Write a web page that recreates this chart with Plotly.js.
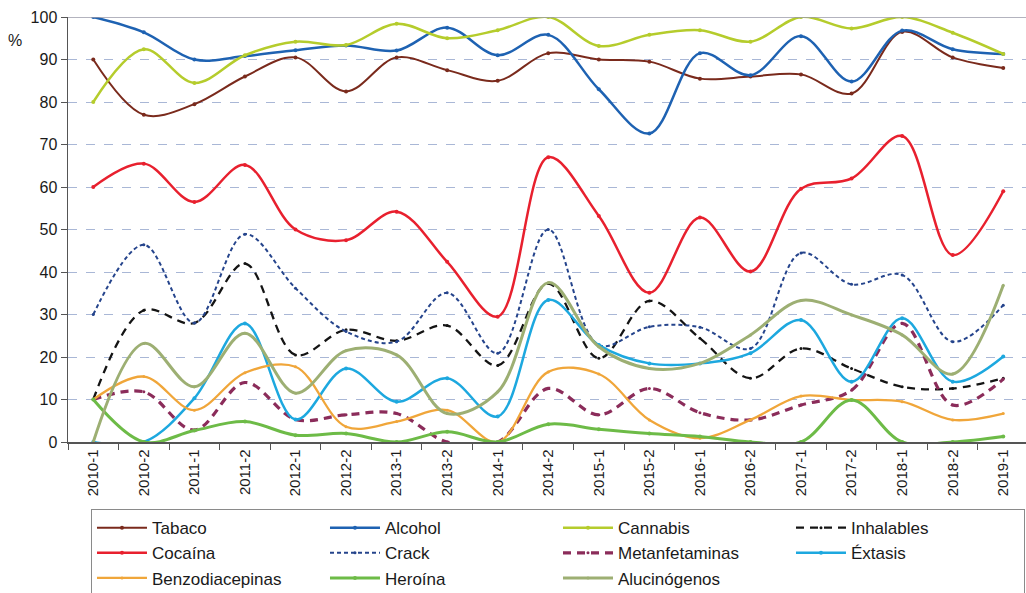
<!DOCTYPE html>
<html>
<head>
<meta charset="utf-8">
<script src="https://cdn.plot.ly/plotly-3.0.1.min.js"></script>
<style>html,body{margin:0;padding:0;background:#fff;}#chart{width:1026px;height:593px;}</style>
</head>
<body>
<div id="chart"></div>
<script>
const categories = ["2010-1","2010-2","2011-1","2011-2","2012-1","2012-2","2013-1","2013-2","2014-1","2014-2","2015-1","2015-2","2016-1","2016-2","2017-1","2017-2","2018-1","2018-2","2019-1"];

const tabaco          = [90, 77, 79.5, 86, 90.5, 82.5, 90.5, 87.5, 85, 91.5, 90, 89.5, 85.5, 86, 86.5, 82, 96.5, 90.5, 88];
const alcohol         = [100, 96.4, 90, 90.8, 92.2, 93.3, 92.1, 97.5, 91, 95.8, 83, 72.6, 91.5, 86.3, 95.5, 84.8, 96.8, 92.4, 91.3];
const cannabis        = [80, 92.4, 84.5, 91, 94.2, 93.4, 98.4, 95, 96.9, 100, 93.2, 95.8, 96.9, 94.2, 100, 97.3, 100, 96.3, 91.3];
const inhalables      = [10, 31, 28, 42, 20.5, 26.4, 23.8, 27.4, 18, 37.3, 19.7, 33.2, 24.4, 15, 22, 17.3, 13, 12.6, 15];
const cocaina         = [60, 65.5, 56.5, 65.2, 50, 47.5, 54.2, 42.4, 29.5, 67, 53.2, 35.1, 52.8, 40.1, 59.6, 62, 72, 44, 59];
const crack           = [30, 46.4, 28, 48.9, 36.2, 26, 23.6, 35.1, 20.9, 50, 22.8, 27.1, 27, 22, 44.5, 37.1, 39.3, 23.6, 32.2];
const metanfetaminas  = [10, 11.8, 2.8, 14, 5.3, 6.4, 6.7, 0, 0, 12.6, 6.4, 12.6, 6.9, 5.2, 8.7, 12.2, 27.9, 8.7, 14.8];
const extasis         = [0, 0, 10.3, 27.9, 5.3, 17.3, 9.5, 15, 6, 33.4, 22.8, 18.5, 18.5, 20.9, 28.7, 14.2, 29.1, 14.2, 20.1];
const benzodiacepinas = [10, 15.4, 7.5, 16.3, 17.7, 3.6, 4.8, 7.5, 0, 16.5, 16, 5.2, 0.9, 5.2, 10.8, 9.9, 9.5, 5.2, 6.7];
const heroina         = [10, 0, 2.7, 4.8, 1.6, 2, 0, 2.4, 0, 4.2, 3, 2, 1.3, 0, 0, 9.9, 0, 0, 1.3];
const alucinogenos    = [0, 23.2, 13, 25.6, 11.5, 21.5, 20.5, 6.7, 11.8, 37.5, 22.4, 17.3, 18.5, 25.2, 33.3, 29.9, 25.2, 16, 36.9];

const yTicks = [0,10,20,30,40,50,60,70,80,90,100];

function tr(name, y, color, width, dash, msize) {
  return {
    type: 'scatter', mode: 'lines+markers', name: name,
    x: categories, y: y,
    line: {color: color, width: width, dash: dash || 'solid', shape: 'spline', smoothing: 1},
    marker: {color: color, size: msize, symbol: 'circle'},
    cliponaxis: true
  };
}

const data = [
  tr('Tabaco', tabaco, '#7A2A1C', 2, 'solid', 4),
  tr('Alcohol', alcohol, '#1E62B2', 2.5, 'solid', 4),
  tr('Cannabis', cannabis, '#B5CC2C', 2.5, 'solid', 4),
  tr('Inhalables', inhalables, '#141414', 2.3, '8px,6px', 3),
  tr('Cocaína', cocaina, '#E8202E', 2.5, 'solid', 4),
  tr('Crack', crack, '#25448C', 2, '4px,3px', 3),
  tr('Metanfetaminas', metanfetaminas, '#8B2C5A', 3.2, '8px,6px', 3),
  tr('Éxtasis', extasis, '#1DA8DF', 2.5, 'solid', 4),
  tr('Benzodiacepinas', benzodiacepinas, '#F0A63A', 2.3, 'solid', 3),
  tr('Heroína', heroina, '#6DBB47', 3, 'solid', 4),
  tr('Alucinógenos', alucinogenos, '#9DAF73', 3, 'solid', 3)
];

const layout = {
  width: 1026, height: 593,
  margin: {l: 68, r: 0, t: 17, b: 151, autoexpand: false},
  paper_bgcolor: '#ffffff', plot_bgcolor: '#ffffff',
  font: {family: 'Arial, "Liberation Sans", sans-serif', color: '#1a1a1a', size: 15},
  showlegend: true,
  xaxis: {
    type: 'category', range: [-0.5, 18.45], automargin: false,
    tickangle: -90, tickfont: {size: 15, color: '#1a1a1a'},
    ticks: 'outside', tickson: 'boundaries', ticklen: 6, tickcolor: '#555',
    showline: true, linecolor: '#555', linewidth: 1.5,
    showgrid: false, zeroline: false, fixedrange: true
  },
  yaxis: {
    range: [0, 100], tickvals: yTicks, ticktext: yTicks.map(String), automargin: false,
    tickfont: {size: 16, color: '#1a1a1a'},
    ticks: 'outside', ticklen: 6, tickcolor: '#555',
    showline: true, linecolor: '#555', linewidth: 1.5,
    showgrid: true, gridcolor: '#A9B7D6', gridwidth: 1, griddash: 'dash',
    zeroline: false, fixedrange: true
  },
  shapes: [
    {type: 'line', xref: 'paper', yref: 'y', x0: 0, x1: 1, y0: 100, y1: 100, line: {color: '#9A9AA8', width: 1.5}}
  ],
  annotations: [
    {text: '%', xref: 'paper', yref: 'paper', x: -0.055, y: 0.945, xanchor: 'center', yanchor: 'middle', showarrow: false, font: {size: 16, color: '#1a1a1a'}}
  ],
  legend: {
    orientation: 'h', x: 0.024, xanchor: 'left', y: -0.158, yanchor: 'top',
    entrywidth: 168, entrywidthmode: 'pixels', itemwidth: 50,
    bordercolor: '#8A8A8A', borderwidth: 1, bgcolor: '#ffffff',
    font: {size: 17, color: '#1a1a1a'}, tracegroupgap: 0
  }
};

Plotly.newPlot('chart', data, layout, {displayModeBar: false, staticPlot: true});
</script>
</body>
</html>
